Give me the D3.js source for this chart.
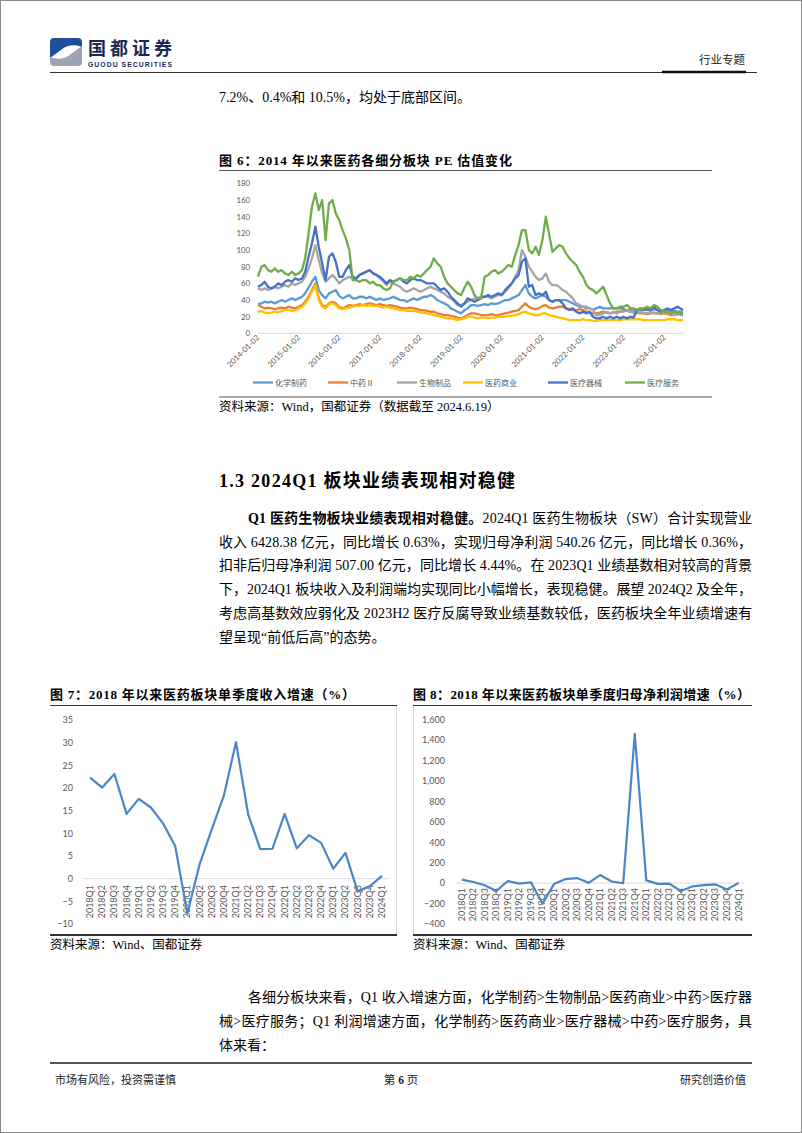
<!DOCTYPE html>
<html><head><meta charset="utf-8">
<script src="https://cdn.jsdelivr.net/npm/d3@7"></script>
<style>
html,body{margin:0;padding:0;background:#fff;}
svg{display:block;}
</style></head>
<body>
<svg id="page" width="802" height="1133"></svg>
<script>
// ---------------- DATA ----------------
// Fig 6: monthly PE readings, Jan 2014 .. Jun 2024
const peStart = "2014-01-02";
const peEnd = "2024-06-19";
const peTickLabels = ["2014-01-02","2015-01-02","2016-01-02","2017-01-02","2018-01-02","2019-01-02","2020-01-02","2021-01-02","2022-01-02","2023-01-02","2024-01-02"];
const peYTicks = [0,20,40,60,80,100,120,140,160,180];
const peNames = ["化学制药","中药Ⅱ","生物制品","医药商业","医疗器械","医疗服务"];
const peChem = [35,36,38,37,38,36,38,40,38,40,42,40, 42,44,48,55,62,68,52,46,42,48,50,52, 45,42,44,46,42,42,44,44,42,44,42,40, 42,40,41,42,44,42,40,40,38,40,42,40, 42,44,44,46,44,40,38,36,34,30,28,26, 24,28,30,34,34,33,34,35,34,36,35,36, 38,40,40,42,44,46,52,58,48,44,42,44, 46,44,40,38,40,40,40,40,38,36,34,32, 32,30,30,28,30,32,30,30,30,30,30,30, 29,28,28,28,28,28,28,28,28,29,28,27, 28,27,26,27,26,26];
const peTcm = [34,32,30,31,30,29,30,31,30,32,31,30, 32,34,38,44,52,60,42,34,32,36,38,36, 32,30,32,34,33,34,35,34,35,36,35,34, 35,34,33,34,33,32,31,30,30,31,30,29, 28,28,27,26,26,24,23,22,22,21,20,19, 18,20,22,24,24,23,22,22,22,23,22,22, 23,24,25,26,27,28,32,36,32,30,29,30, 33,34,31,30,31,32,32,30,29,28,28,29, 28,26,25,24,24,25,26,25,24,25,26,26, 27,27,26,25,25,24,24,23,24,25,24,23, 24,23,22,22,23,22];
const peBio = [54,52,54,52,54,56,54,56,58,56,60,58, 60,62,68,78,90,106,88,72,62,66,70,66, 60,64,66,68,66,66,70,72,74,76,72,70, 66,62,58,62,60,58,56,52,50,52,54,52, 50,52,54,56,54,52,50,48,44,42,38,34, 34,36,38,40,42,40,42,44,44,42,44,46, 46,50,54,60,68,76,100,92,80,74,68,64, 66,72,62,58,58,56,52,50,46,42,36,34, 32,32,30,28,22,22,24,26,24,26,24,26, 26,28,26,26,24,26,24,24,26,24,24,24, 26,24,24,22,24,22];
const peDist = [26,27,25,24,25,26,25,27,28,28,27,28, 30,32,36,42,50,58,40,32,30,35,36,34, 30,29,30,31,32,33,33,34,33,34,33,33, 32,31,32,31,30,29,28,28,27,27,27,26, 25,25,24,23,22,21,20,19,18,18,17,16, 17,18,20,20,19,18,19,19,18,19,19,20, 20,20,21,21,22,23,25,26,24,23,22,22, 24,24,22,21,20,19,18,17,16,16,16,16, 17,16,16,15,15,16,16,16,16,16,16,16, 17,17,17,17,17,17,16,16,16,16,16,16, 16,17,17,17,16,16];
const peDevice = [56,58,62,56,54,56,60,58,62,64,62,66, 64,66,74,92,108,128,104,84,64,92,96,86, 68,68,76,82,68,66,70,72,74,76,72,70, 68,64,60,64,62,64,66,62,60,64,66,64, 64,62,60,60,60,56,52,54,50,44,40,36, 32,36,42,40,38,40,44,44,46,44,46,48, 46,52,56,60,66,70,86,90,56,58,46,48, 46,50,40,38,40,40,36,30,28,30,26,24, 26,24,26,20,18,18,20,18,20,18,20,18, 20,18,20,19,28,30,28,30,28,32,28,26, 28,30,28,30,32,28];
const peService = [68,80,82,76,74,78,74,76,72,70,74,70, 72,76,90,120,152,168,148,160,112,156,160,144, 136,124,114,100,64,64,62,64,64,60,62,58, 58,54,52,54,62,64,66,64,64,68,66,70, 68,72,76,80,90,84,80,68,60,56,52,48, 46,55,62,56,46,42,44,68,70,74,76,72, 74,78,82,80,94,106,124,124,100,96,104,94, 112,140,120,98,102,106,104,96,90,86,82,74, 68,58,54,52,48,52,56,46,36,30,30,32, 32,34,30,30,28,30,30,32,30,34,32,28, 26,26,24,26,24,24];

// Fig 7 / Fig 8: quarterly growth (%)
const quarters = ["2018Q1","2018Q2","2018Q3","2018Q4","2019Q1","2019Q2","2019Q3","2019Q4","2020Q1","2020Q2","2020Q3","2020Q4","2021Q1","2021Q2","2021Q3","2021Q4","2022Q1","2022Q2","2022Q3","2022Q4","2023Q1","2023Q2","2023Q3","2023Q4","2024Q1"];
const revenueGrowth = [22.3,20.1,23.1,14.3,17.6,15.7,12.2,7.2,-7.7,3.1,10.8,18.3,30.1,14.2,6.5,6.6,14.3,6.7,9.6,7.9,2.2,5.7,-2.8,-1.7,0.63];
const profitGrowth = [33,10,-22,-78,20,-6,7,-202,-10,39,49,2,78,15,-2,1457,26,-8,-5,-78,-33,-20,-13,-62,0.36];
const revTicks = [-10,-5,0,5,10,15,20,25,30,35];
const profTicks = [-400,-200,0,200,400,600,800,1000,1200,1400,1600];

// ---------------- STYLE ----------------
const SERIF = "'Liberation Serif','Noto Sans CJK SC',serif";
const CJK = "'Noto Sans CJK SC',sans-serif";
const CHART = "Lato,'Noto Sans CJK SC',sans-serif";
const peColors = ["#5B9BD5","#ED7D31","#A5A5A5","#FFC000","#4472C4","#70AD47"];

const svg = d3.select("#page");
svg.append("rect").attr("x",0.5).attr("y",0.5).attr("width",801).attr("height",1132)
  .attr("fill","#fff").attr("stroke","#8a8a8a");

function text(x,y,str,o={}){
  const t = svg.append("text").attr("x",x).attr("y",y)
    .attr("font-family",o.family||SERIF).attr("font-size",o.size||14)
    .attr("font-weight",o.weight||400).attr("fill",o.fill||"#000")
    .attr("text-anchor",o.anchor||"start");
  if(o.len){ t.attr("textLength",o.len).attr("lengthAdjust","spacing"); }
  if(Array.isArray(str)){
    str.forEach(s=>{ t.append("tspan").attr("font-weight",s.w||400).text(s.t); });
  } else t.text(str);
  return t;
}
function hline(x1,x2,y,w,c){ svg.append("line").attr("x1",x1).attr("x2",x2).attr("y1",y).attr("y2",y).attr("stroke",c).attr("stroke-width",w); }

// ---------------- HEADER ----------------
const logo = svg.append("g");
logo.append("path").attr("d","M54,38 h24 q4,0 4,4 v5 c-7,-3 -16,-2 -21,3 l-11,8 v-16 q0,-4 4,-4 z").attr("fill","#1d4f9c");
logo.append("path").attr("d","M78,66 h-24 q-4,0 -4,-4 v-5 c7,3 16,2 21,-3 l11,-8 v16 q0,4 -4,4 z").attr("fill","#9ba4b4");
text(88,55,"国都证券",{family:CJK,size:18,weight:700,fill:"#1b2a55",len:84});
text(88,66.5,"GUODU SECURITIES",{family:"'Liberation Sans',sans-serif",size:6.8,weight:700,fill:"#1b2a55",len:84});
text(745,64,"行业专题",{family:CJK,size:11.5,anchor:"end",fill:"#222"});
hline(50,757,72.5,1,"#333");
hline(662,746,72,2.5,"#111");

text(219,102,"7.2%、0.4%和 10.5%，均处于底部区间。",{size:14});

// ---------------- FIG 6 ----------------
text(219,165,"图 6：2014 年以来医药各细分板块 PE 估值变化",{size:13,weight:700,len:293});
hline(219,712,170.5,1,"#555");

const parseD = d3.timeParse("%Y-%m-%d");
const d0 = parseD(peStart), d1 = parseD(peEnd);
const xPE = d3.scaleTime().domain([d0,d1]).range([258,683]);
const yPE = d3.scaleLinear().domain([0,180]).range([333.4,183.4]);
const peSeries = [peChem,peTcm,peBio,peDist,peDevice,peService];
const monthDate = (i,n)=> i===n-1 ? d1 : d3.timeMonth.offset(d0,i);

const g6 = svg.append("g");
g6.append("line").attr("x1",258).attr("x2",684).attr("y1",yPE(0)).attr("y2",yPE(0)).attr("stroke","#d9d9d9");
const yAx6 = g6.append("g").attr("transform","translate(258,0)")
  .call(d3.axisLeft(yPE).tickValues(peYTicks).tickSize(0).tickPadding(8));
yAx6.select(".domain").remove();
yAx6.selectAll("text").attr("font-family",CHART).attr("font-size",7.8).attr("fill","#595959");

peTickLabels.forEach(s=>{
  const xx = xPE(parseD(s));
  g6.append("text").attr("transform",`translate(${xx+2},${338}) rotate(-45)`)
    .attr("text-anchor","end").attr("font-family",CHART).attr("font-size",7.8).attr("fill","#595959").text(s);
});
peSeries.forEach((arr,k)=>{
  const ln = d3.line().x((d,i)=>xPE(monthDate(i,arr.length))).y(d=>yPE(d));
  g6.append("path").datum(arr).attr("d",ln).attr("fill","none")
    .attr("stroke",peColors[k]).attr("stroke-width",2.3).attr("stroke-linejoin","round");
});
const legX = [253,328,397,463,548,625];
peNames.forEach((n,k)=>{
  g6.append("line").attr("x1",legX[k]).attr("x2",legX[k]+20).attr("y1",382.5).attr("y2",382.5)
    .attr("stroke",peColors[k]).attr("stroke-width",2.3);
  g6.append("text").attr("x",legX[k]+22).attr("y",385.5).attr("font-family",CJK)
    .attr("font-size",8).attr("fill","#595959").text(n);
});
hline(219,712,397,1,"#555");
text(219,411,"资料来源：Wind，国都证券（数据截至 2024.6.19）",{size:12.5});

// ---------------- SECTION TEXT ----------------
text(219,486.5,"1.3 2024Q1 板块业绩表现相对稳健",{size:18,weight:700,len:296});
const W = 533;
const L = 23.7;
text(248,523,[{t:"Q1 医药生物板块业绩表现相对稳健。",w:700},{t:"2024Q1 医药生物板块（SW）合计实现营业"}],{size:14,len:752-248});
text(219,523+L,"收入 6428.38 亿元，同比增长 0.63%，实现归母净利润 540.26 亿元，同比增长 0.36%，",{size:14,len:W});
text(219,523+2*L,"扣非后归母净利润 507.00 亿元，同比增长 4.44%。在 2023Q1 业绩基数相对较高的背景",{size:14,len:W});
text(219,523+3*L,"下，2024Q1 板块收入及利润端均实现同比小幅增长，表现稳健。展望 2024Q2 及全年，",{size:14,len:W});
text(219,523+4*L,"考虑高基数效应弱化及 2023H2 医疗反腐导致业绩基数较低，医药板块全年业绩增速有",{size:14,len:W});
text(219,523+5*L,"望呈现“前低后高”的态势。",{size:14});

// ---------------- FIG 7 ----------------
text(50,699,"图 7：2018 年以来医药板块单季度收入增速（%）",{size:13,weight:700,len:305});
hline(50,397,705.5,1.2,"#333");
svg.append("line").attr("x1",396.5).attr("x2",396.5).attr("y1",706).attr("y2",934).attr("stroke","#d9d9d9");
const x7 = d3.scaleBand().domain(quarters).range([84,388]);
const y7 = d3.scaleLinear().domain([-10,35]).range([924,720]);
const g7 = svg.append("g");
g7.append("line").attr("x1",84).attr("x2",388).attr("y1",y7(0)).attr("y2",y7(0)).attr("stroke","#d9d9d9");
const yAx7 = g7.append("g").attr("transform","translate(84,0)")
  .call(d3.axisLeft(y7).tickValues(revTicks).tickSize(0).tickPadding(11));
yAx7.select(".domain").remove();
yAx7.selectAll("text").attr("font-family",CHART).attr("font-size",9).attr("fill","#595959");
quarters.forEach(q=>{
  const xx = x7(q)+x7.bandwidth()/2;
  g7.append("text").attr("transform",`translate(${xx+3},${885}) rotate(-90)`)
    .attr("text-anchor","end").attr("font-family",CHART).attr("font-size",9).attr("fill","#595959").text(q);
});
g7.append("path").datum(revenueGrowth)
  .attr("d",d3.line().x((d,i)=>x7(quarters[i])+x7.bandwidth()/2).y(d=>y7(d)))
  .attr("fill","none").attr("stroke","#4A86C6").attr("stroke-width",2.2).attr("stroke-linejoin","round");
hline(50,397,935,2,"#333");
text(50,949,"资料来源：Wind、国都证券",{size:12.5});

// ---------------- FIG 8 ----------------
text(413,699,"图 8：2018 年以来医药板块单季度归母净利润增速（%）",{size:13,weight:700,len:337});
hline(413,752,705.5,1.2,"#333");
svg.append("line").attr("x1",413.5).attr("x2",413.5).attr("y1",706).attr("y2",934).attr("stroke","#d9d9d9");
const x8 = d3.scaleBand().domain(quarters).range([456,744.3]);
const y8 = d3.scaleLinear().domain([-400,1600]).range([924,719.3]);
const g8 = svg.append("g");
g8.append("line").attr("x1",456).attr("x2",744).attr("y1",y8(0)).attr("y2",y8(0)).attr("stroke","#d9d9d9");
const yAx8 = g8.append("g").attr("transform","translate(456,0)")
  .call(d3.axisLeft(y8).tickValues(profTicks).tickFormat(d3.format(",")).tickSize(0).tickPadding(11));
yAx8.select(".domain").remove();
yAx8.selectAll("text").attr("font-family",CHART).attr("font-size",9).attr("fill","#595959");
quarters.forEach(q=>{
  const xx = x8(q)+x8.bandwidth()/2;
  g8.append("text").attr("transform",`translate(${xx+3},${888}) rotate(-90)`)
    .attr("text-anchor","end").attr("font-family",CHART).attr("font-size",9).attr("fill","#595959").text(q);
});
g8.append("path").datum(profitGrowth)
  .attr("d",d3.line().x((d,i)=>x8(quarters[i])+x8.bandwidth()/2).y(d=>y8(d)))
  .attr("fill","none").attr("stroke","#4A86C6").attr("stroke-width",2.2).attr("stroke-linejoin","round");
hline(413,752,935,2,"#333");
text(413,949,"资料来源：Wind、国都证券",{size:12.5});

// ---------------- BOTTOM TEXT ----------------
text(248,1002,"各细分板块来看，Q1 收入增速方面，化学制药>生物制品>医药商业>中药>医疗器",{size:14,len:752-248});
text(219,1026,"械>医疗服务；Q1 利润增速方面，化学制药>医药商业>医疗器械>中药>医疗服务，具",{size:14,len:W});
text(219,1050,"体来看：",{size:14});

// ---------------- FOOTER ----------------
hline(50,752,1063,2,"#555");
text(55,1084,"市场有风险，投资需谨慎",{family:CJK,size:11,fill:"#222"});
text(401,1084,[{t:"第 "},{t:"6",w:700},{t:" 页"}],{family:SERIF,size:11.5,anchor:"middle",fill:"#222"});
text(746,1084,"研究创造价值",{family:CJK,size:11,anchor:"end",fill:"#222"});
</script>
</body></html>
